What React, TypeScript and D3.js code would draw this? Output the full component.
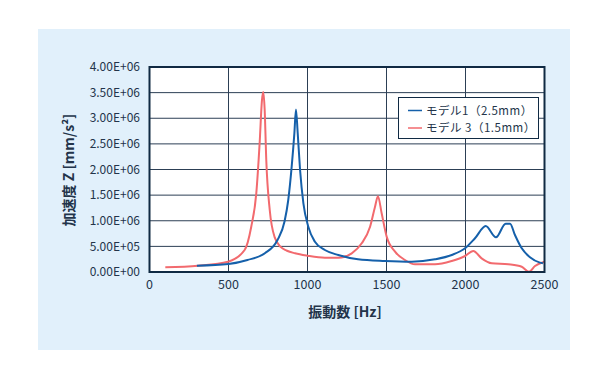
import React from "react";
import * as d3 from "d3";

const xTicks = [0, 500, 1000, 1500, 2000, 2500];
const yTicks = [0, 500000, 1000000, 1500000, 2000000, 2500000, 3000000, 3500000, 4000000];

const model1Freq = [300, 500, 620, 730, 810, 855, 878, 900, 917, 927, 938, 953, 974, 1005, 1047, 1110, 1195, 1320, 1490, 1660, 1807, 1913, 1997, 2060, 2128, 2193, 2254, 2282, 2313, 2356, 2408, 2471, 2490];
const model1Val = [123000, 156000, 234000, 365000, 624000, 990000, 1400000, 2060000, 2710000, 3170000, 2710000, 1990000, 1340000, 884000, 591000, 429000, 332000, 248000, 215000, 201000, 248000, 332000, 462000, 658000, 897000, 677000, 943000, 943000, 722000, 462000, 287000, 183000, 170000];

const model3Freq = [100, 307, 497, 602, 644, 676, 697, 712, 720, 729, 739, 761, 792, 830, 870, 921, 1000, 1110, 1195, 1280, 1343, 1396, 1427, 1446, 1469, 1501, 1554, 1617, 1680, 1807, 1913, 1997, 2049, 2102, 2166, 2271, 2356, 2402, 2440, 2500];
const model3Val = [92000, 123000, 201000, 429000, 884000, 1540000, 2510000, 3360000, 3510000, 3160000, 2190000, 1210000, 680000, 490000, 415000, 365000, 318000, 279000, 279000, 365000, 560000, 884000, 1270000, 1480000, 1150000, 690000, 397000, 234000, 150000, 150000, 215000, 312000, 410000, 267000, 170000, 150000, 103000, 5000, 117000, 201000];

const seriesNames = ["モデル1（2.5mm）", "モデル 3（1.5mm）"];
const seriesColors = ["#1560aa", "#f26a6e"];

const FONT = "'Noto Sans CJK JP', 'Noto Sans', sans-serif";
const TEXT = "#23344a";
const FRAME = "#102a43";

function fmt(v: number): string {
  const s = v.toExponential(2);
  const [m, e] = s.split("e");
  const sign = e[0] === "-" ? "-" : "+";
  const digits = e.replace(/[+-]/, "").padStart(2, "0");
  return `${m}E${sign}${digits}`;
}

export default function App() {
  const W = 600, H = 380;
  const left = 149.5, right = 544.5, top = 67, bottom = 272;
  const x = d3.scaleLinear().domain([0, 2500]).range([left, right]);
  const y = d3.scaleLinear().domain([0, 4000000]).range([bottom, top]);
  const line = d3
    .line<[number, number]>()
    .x((d) => x(d[0]))
    .y((d) => y(d[1]))
    .curve(d3.curveMonotoneX);
  const s1: [number, number][] = model1Freq.map((f, i) => [f, model1Val[i]]);
  const s3: [number, number][] = model3Freq.map((f, i) => [f, model3Val[i]]);

  return (
    <svg width={W} height={H} style={{ position: "absolute", left: 0, top: 0 }} fontFamily={FONT}>
      <rect x={0} y={0} width={W} height={H} fill="#ffffff" />
      <rect x={38} y={29} width={532} height={321} fill="#e1f0fb" />
      <rect x={left} y={top} width={right - left} height={bottom - top} fill="#ffffff" />
      {yTicks.slice(1, -1).map((t) => (
        <line key={"gy" + t} x1={left} x2={right} y1={y(t)} y2={y(t)} stroke="#2c3f55" strokeWidth={1} />
      ))}
      {xTicks.slice(1, -1).map((t) => (
        <line key={"gx" + t} x1={x(t)} x2={x(t)} y1={top} y2={bottom} stroke="#2c3f55" strokeWidth={1} />
      ))}
      <path d={line(s3) || ""} fill="none" stroke={seriesColors[1]} strokeWidth={2} />
      <path d={line(s1) || ""} fill="none" stroke={seriesColors[0]} strokeWidth={2} />
      <rect x={left} y={top} width={right - left} height={bottom - top} fill="none" stroke={FRAME} strokeWidth={2} />
      {yTicks.map((t) => (
        <text key={"ty" + t} x={140} y={y(t)} dy="0.35em" textAnchor="end" fontSize={12} fill={TEXT}>
          {fmt(t)}
        </text>
      ))}
      {xTicks.map((t) => (
        <text key={"tx" + t} x={x(t)} y={288.5} textAnchor="middle" fontSize={12.5} fill={TEXT}>
          {t}
        </text>
      ))}
      <text x={345} y={317} textAnchor="middle" fontSize={14} fontWeight="bold" fill={TEXT}>
        振動数 [Hz]
      </text>
      <text
        transform={`translate(74,170) rotate(-90)`}
        textAnchor="middle"
        fontSize={14}
        fontWeight="bold"
        fill={TEXT}
      >
        加速度 Z [mm/s²]
      </text>
      <rect x={398.5} y={97.5} width={140} height={41} fill="#ffffff" stroke={FRAME} strokeWidth={1} />
      {seriesNames.map((n, i) => (
        <g key={n}>
          <line x1={408} x2={422} y1={110.5 + i * 17.5} y2={110.5 + i * 17.5} stroke={seriesColors[i]} strokeWidth={1.5} />
          <text x={426} y={110.5 + i * 17.5} dy="0.35em" fontSize={11.5} letterSpacing={0.5} fill={TEXT}>
            {n}
          </text>
        </g>
      ))}
    </svg>
  );
}
